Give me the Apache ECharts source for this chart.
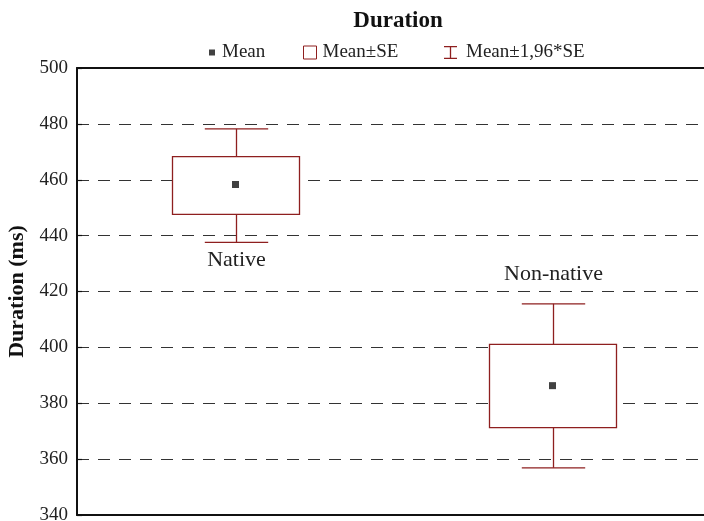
<!DOCTYPE html>
<html>
<head>
<meta charset="utf-8">
<script src="https://cdn.jsdelivr.net/npm/echarts@6/dist/echarts.min.js"></script>
<style>
  html, body { margin: 0; padding: 0; background: #fff; }
  #chart { width: 704px; height: 521px; }
</style>
</head>
<body>
<div id="chart"></div>
<script>
// Group names on the category axis
const categories = ['Native', 'Non-native'];
// Mean duration per group (ms)
const means = [458.3, 386.3];
// Mean ± SE bounds (ms)
const seLow = [447.6, 371.3];
const seHigh = [468.3, 401.1];
// Mean ± 1.96*SE bounds (ms)
const ciLow = [437.6, 356.9];
const ciHigh = [478.2, 415.6];
// Value axis range
const yMin = 340, yMax = 500, yStep = 20;

const RED = '#8e1f1f';
const SERIF = '"Liberation Serif", "DejaVu Serif", serif';

const boxData = categories.map((c, i) => [i, seLow[i], seHigh[i]]);
const whiskerData = categories.map((c, i) => [i, ciLow[i], seLow[i], seHigh[i], ciHigh[i]]);
const meanData = categories.map((c, i) => [i, means[i]]);

function renderWhisker(params, api) {
  const i = api.value(0);
  const pLow = api.coord([i, api.value(1)]);
  const pSeLow = api.coord([i, api.value(2)]);
  const pSeHigh = api.coord([i, api.value(3)]);
  const pHigh = api.coord([i, api.value(4)]);
  const band = api.size([1, 0])[0];
  const cap = band * 0.1;
  const x = Math.round(pLow[0]) + 0.5;
  const lineStyle = { stroke: RED, lineWidth: 1.3 };
  const children = [
    { type: 'line', shape: { x1: x, y1: pSeHigh[1], x2: x, y2: pHigh[1] }, style: lineStyle },
    { type: 'line', shape: { x1: x - cap, y1: pHigh[1], x2: x + cap, y2: pHigh[1] }, style: lineStyle },
    { type: 'line', shape: { x1: x, y1: pSeLow[1], x2: x, y2: pLow[1] }, style: lineStyle },
    { type: 'line', shape: { x1: x - cap, y1: pLow[1], x2: x + cap, y2: pLow[1] }, style: lineStyle }
  ];
  // group name: under the lower whisker for the first group, above the upper one otherwise
  const labelY = params.dataIndex === 0 ? pLow[1] + 18 : pHigh[1] - 30;
  children.push({
    type: 'text',
    style: {
      x: x, y: labelY, text: categories[params.dataIndex],
      textAlign: 'center', textVerticalAlign: 'middle',
      font: '22px ' + SERIF, fill: '#222'
    }
  });
  return { type: 'group', children: children };
}

function renderBox(params, api) {
  const i = api.value(0);
  const pLow = api.coord([i, api.value(1)]);
  const pHigh = api.coord([i, api.value(2)]);
  const band = api.size([1, 0])[0];
  const w = band * 0.4;
  return {
    type: 'rect',
    shape: { x: Math.round(pLow[0] - w / 2) + 0.5, y: pHigh[1], width: Math.round(w), height: pLow[1] - pHigh[1] },
    style: { fill: '#fff', stroke: RED, lineWidth: 1.3 }
  };
}

const legendText = { fontFamily: SERIF, fontSize: 19, color: '#222' };

const chart = echarts.init(document.getElementById('chart'));
chart.setOption({
  animation: false,
  backgroundColor: '#fff',
  title: {
    text: 'Duration',
    left: 393, top: 5, textAlign: 'center',
    textStyle: { fontFamily: SERIF, fontSize: 23, fontWeight: 'bold', color: '#111' }
  },
  legend: [
    {
      left: 204, top: 38, itemWidth: 6, itemHeight: 6,
      data: [{ name: 'Mean', icon: 'rect', itemStyle: { color: '#111' } }],
      textStyle: Object.assign({ padding: [0, 0, 0, 2] }, legendText)
    },
    {
      left: 298, top: 38, itemWidth: 13, itemHeight: 13,
      data: [{ name: 'Mean±SE', icon: 'rect', itemStyle: { color: '#fff', borderColor: RED, borderWidth: 1 } }],
      textStyle: Object.assign({ padding: [0, 0, 0, 1] }, legendText)
    },
    {
      left: 439, top: 38, itemWidth: 13, itemHeight: 13,
      data: [{ name: 'Mean±1,96*SE', icon: 'path://M0,0H13V1.3H7.15V11.7H13V13H0V11.7H5.85V1.3H0Z', itemStyle: { color: RED } }],
      textStyle: Object.assign({ padding: [0, 0, 0, 4] }, legendText)
    }
  ],
  grid: { left: 77, top: 68, width: 634, height: 447, containLabel: false, outerBoundsMode: 'none' },
  xAxis: [
    {
      type: 'category', data: categories, position: 'bottom',
      axisLine: { lineStyle: { color: '#111', width: 2 } },
      axisTick: { inside: true, alignWithLabel: true, length: 4, lineStyle: { color: '#111', width: 1.5 } },
      axisLabel: { show: false }, splitLine: { show: false }
    },
    {
      type: 'category', data: categories, position: 'top',
      axisLine: { lineStyle: { color: '#111', width: 2 } },
      axisTick: { inside: true, alignWithLabel: true, length: 4, lineStyle: { color: '#111', width: 1.5 } },
      axisLabel: { show: false }, splitLine: { show: false }
    }
  ],
  yAxis: {
    type: 'value', min: yMin, max: yMax, interval: yStep,
    name: 'Duration (ms)', nameLocation: 'middle', nameGap: 45,
    nameTextStyle: { fontFamily: SERIF, fontSize: 22, fontWeight: 'bold', color: '#111' },
    axisLine: { show: true, lineStyle: { color: '#111', width: 2 } },
    axisTick: { show: true, inside: true, length: 5, lineStyle: { color: '#111', width: 1.2 } },
    axisLabel: { fontFamily: SERIF, fontSize: 19, color: '#222', margin: 9 },
    splitLine: { show: true, lineStyle: { color: '#333', width: 1, type: [12, 9] } }
  },
  series: [
    {
      name: 'Mean±1,96*SE', type: 'custom', renderItem: renderWhisker,
      itemStyle: { color: RED }, encode: { x: 0, y: [1, 2, 3, 4] }, data: whiskerData, z: 2
    },
    {
      name: 'Mean±SE', type: 'custom', renderItem: renderBox,
      itemStyle: { color: RED }, encode: { x: 0, y: [1, 2] }, data: boxData, z: 3
    },
    {
      name: 'Mean', type: 'scatter', symbol: 'rect', symbolSize: 7,
      itemStyle: { color: '#111' }, data: meanData, z: 4
    }
  ]
});
</script>
</body>
</html>
